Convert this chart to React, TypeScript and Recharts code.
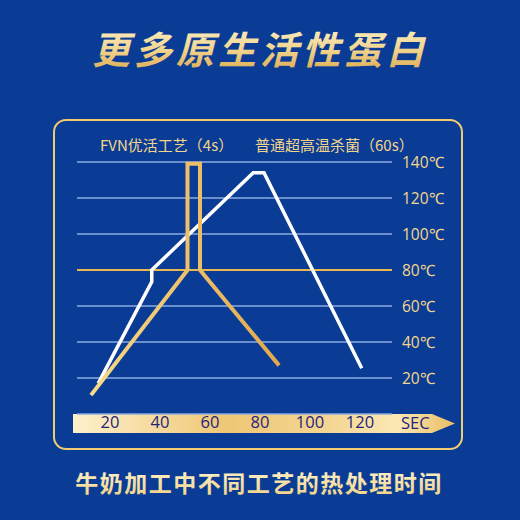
import React from 'react'
import {
  LineChart, Line, XAxis, YAxis, CartesianGrid, ReferenceLine
} from 'recharts'

// seconds / °C
const fvnTime = [12.4, 51, 51, 56, 56, 87.6]
const fvnTemp = [10.5, 80, 139, 139, 80, 27]
const uhtTime = [15.3, 36.7, 36.7, 77.3, 81.6, 120.7]
const uhtTemp = [17, 73.5, 80, 134, 134, 25.4]

const secTicks = [20, 40, 60, 80, 100, 120]
const tempTicks = [20, 40, 60, 80, 100, 120, 140]

const fvnData = fvnTime.map((t, i) => ({ t, T: fvnTemp[i] }))
const uhtData = uhtTime.map((t, i) => ({ t, T: uhtTemp[i] }))

const GOLD = '#f3d68c'
const NAVY = '#1f237c'
const BG = '#0b3c95'
const CJK = '"Noto Sans CJK SC", "Noto Sans", sans-serif'
const LATIN = '"Open Sans", sans-serif'

const SecTick = ({ x, y, payload }: any) => (
  <text x={x} y={y} textAnchor="middle" dominantBaseline="central"
    fill={NAVY} fontSize={16.5} fontFamily={LATIN}>
    {payload.value}
  </text>
)

export default function App() {
  return (
    <div style={{ position: 'absolute', left: 0, top: 0, width: 520, height: 520, background: BG, overflow: 'hidden' }}>
      <svg width={520} height={520} style={{ position: 'absolute', left: 0, top: 0 }}>
        <defs>
          <linearGradient id="titleGrad" x1="0" y1="0" x2="0" y2="1">
            <stop offset="0%" stopColor="#fff6d2" />
            <stop offset="55%" stopColor="#f1d48e" />
            <stop offset="100%" stopColor="#d9a64a" />
          </linearGradient>
          <linearGradient id="subGrad" x1="0" y1="0" x2="0" y2="1">
            <stop offset="0%" stopColor="#fff5d4" />
            <stop offset="100%" stopColor="#f0cf82" />
          </linearGradient>
          <linearGradient id="bandGrad" x1="0" y1="0" x2="1" y2="0">
            <stop offset="0%" stopColor="#fdf1cc" />
            <stop offset="40%" stopColor="#efc775" />
            <stop offset="65%" stopColor="#f3d490" />
            <stop offset="85%" stopColor="#fbe8b4" />
            <stop offset="100%" stopColor="#e9bc62" />
          </linearGradient>
        </defs>
        <text x={260} y={47} textAnchor="middle" dominantBaseline="central"
          fill="url(#titleGrad)" fontSize={38} fontWeight={700} fontStyle="italic"
          letterSpacing={4} fontFamily={CJK}>
          更多原生活性蛋白
        </text>
        <rect x={54} y={120} width={408} height={329} rx={12} ry={12}
          fill="none" stroke="#f0cc70" strokeWidth={2} />
        <polygon points="73,414 432,414 455,423.5 432,433 73,433" fill="url(#bandGrad)" />
        <text x={100} y={144} dominantBaseline="central" fill={GOLD} fontSize={15} fontFamily={CJK}>
          FVN优活工艺（4s）
        </text>
        <text x={255} y={144} dominantBaseline="central" fill={GOLD} fontSize={15} fontFamily={CJK}>
          普通超高温杀菌（60s）
        </text>
        <text x={259} y={482} textAnchor="middle" dominantBaseline="central"
          fill="url(#subGrad)" fontSize={23} fontWeight={700} letterSpacing={1.5} fontFamily={CJK}>
          牛奶加工中不同工艺的热处理时间
        </text>
      </svg>
      <div style={{ position: 'absolute', left: 0, top: 0 }}>
        <LineChart width={520} height={520} margin={{ top: 162, right: 78, left: 77, bottom: 87 }}>
          <defs>
            <linearGradient id="fvnGrad" x1="0" y1="0" x2="1" y2="0">
              <stop offset="0%" stopColor="#f7da8a" />
              <stop offset="100%" stopColor="#e2a94c" />
            </linearGradient>
          </defs>
          <CartesianGrid horizontal vertical={false} stroke="#8dabe0" strokeWidth={1.5} />
          <XAxis type="number" dataKey="t" domain={[6.8, 132.8]} ticks={secTicks}
            allowDataOverflow axisLine={false} tickLine={false} height={19} tickMargin={1}
            tick={<SecTick />}
            label={{ value: 'SEC', position: 'right', offset: 9, fill: NAVY, fontSize: 16.5, fontFamily: LATIN }} />
          <YAxis orientation="right" type="number" domain={[0, 140]} ticks={tempTicks}
            axisLine={false} tickLine={false} width={50} tickMargin={4}
            tick={{ fill: GOLD, fontSize: 15.5, fontFamily: LATIN }}
            tickFormatter={(v: number) => `${v}℃`} />
          <ReferenceLine y={80} stroke="#e9b850" strokeWidth={2} />
          <Line data={uhtData} dataKey="T" type="linear" stroke="#ffffff" strokeWidth={3.5}
            dot={false} isAnimationActive={false} strokeLinejoin="miter" />
          <Line data={fvnData} dataKey="T" type="linear" stroke="url(#fvnGrad)" strokeWidth={4}
            dot={false} isAnimationActive={false} strokeLinejoin="miter" />
        </LineChart>
      </div>
    </div>
  )
}
